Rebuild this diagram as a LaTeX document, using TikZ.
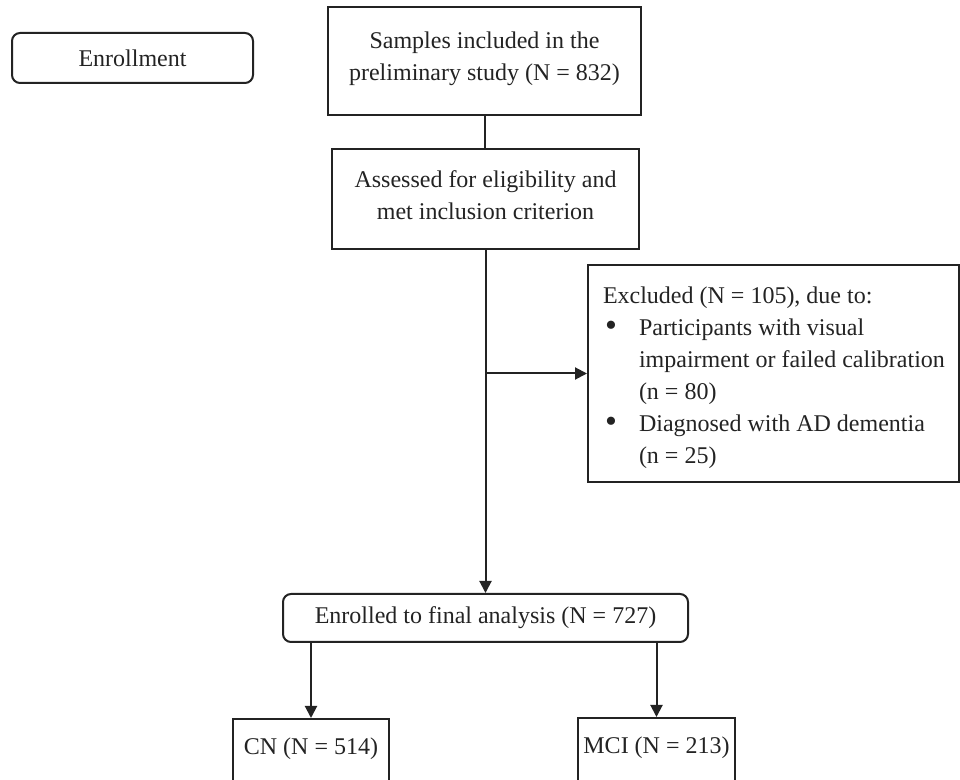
\documentclass[tikz,border=0pt]{standalone}
\usepackage{fontspec}
\setmainfont{Liberation Serif}
\usetikzlibrary{arrows.meta}
\definecolor{ink}{RGB}{35,35,35}
\newcommand{\bigbul}{\makebox[18pt][l]{\hspace{1pt}\raisebox{-0.5pt}{\fontsize{17}{16}\selectfont •}}}
\begin{document}
\begin{tikzpicture}[x=0.5pt,y=-0.5pt,
  font=\fontsize{12}{16}\selectfont,
  every node/.style={text=ink},
  box/.style={draw=ink, line width=1pt, rectangle, inner sep=0pt, align=center},
  rbox/.style={box, rounded corners=4pt},
  bottombox/.style={draw=ink, line width=1pt, rectangle, anchor=north, inner xsep=0pt, inner ysep=5pt, text height=13pt, text depth=22pt},
  conn/.style={draw=ink, line width=1pt},
  arr/.style={conn, -{Triangle[length=6pt,width=6pt]}}]
\useasboundingbox (0,0) rectangle (960,780);
\node[rbox, minimum width=120.5pt, minimum height=25pt] (enroll) at (132.5,58) {Enrollment};
\node[box, minimum width=156.5pt, minimum height=54pt] (samples) at (484.5,61) {Samples included in the\\preliminary study (N = 832)\\[-11pt]};
\node[box, minimum width=153.5pt, minimum height=50pt] (assess) at (485.5,199) {Assessed for eligibility and\\met inclusion criterion\\[-12pt]};
\node[box, minimum width=185.5pt, minimum height=108.5pt, align=flush left, text width=170.5pt, inner xsep=7.5pt, inner ysep=0pt] (excl) at (773.5,373.5) {\mbox{\rule{0pt}{13pt}Excluded (N = 105), due to:}\\
\mbox{\bigbul Participants with visual}\\
\mbox{\hspace*{18pt}impairment or failed calibration}\\
\mbox{\hspace*{18pt}(n = 80)}\\
\mbox{\bigbul Diagnosed with AD dementia}\\
\mbox{\hspace*{18pt}(n = 25)}};
\node[rbox, minimum width=202.5pt, minimum height=24pt] (final) at (485.5,618) {Enrolled to final analysis (N = 727)};
\node[bottombox, minimum width=78pt] (cn) at (311,718) {CN (N = 514)};
\node[bottombox, minimum width=78.5pt] (mci) at (656.5,717) {MCI (N = 213)};
\draw[conn] (samples.south) -- (samples.south |- assess.north);
\draw[arr] (assess.south) -- (final.north);
\coordinate (br) at (assess.south |- excl.west);
\draw[arr] (br) -- (excl.west);
\draw[arr] (final.south -| cn.north) -- (cn.north);
\draw[arr] (final.south -| mci.north) -- (mci.north);
\end{tikzpicture}
\end{document}
